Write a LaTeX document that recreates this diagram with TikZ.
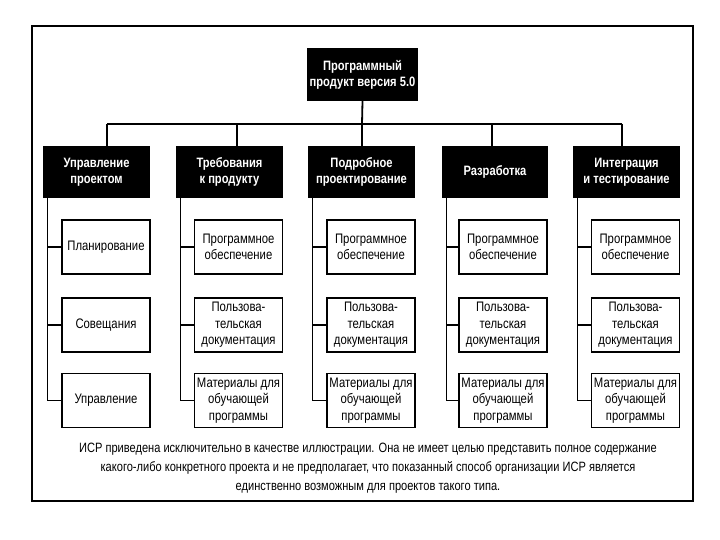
\documentclass[tikz,border=0pt]{standalone}
\usepackage{fontspec}
\setmainfont[FakeStretch=0.82]{Liberation Sans}
\begin{document}
\begin{tikzpicture}[x=1pt,y=-1pt,
  head/.style={fill=black, text=white, font=\fontsize{13.6}{16}\selectfont\bfseries, align=center, inner sep=0pt, minimum width=107pt, minimum height=52pt},
  leaf/.style={draw, line width=1.1pt, fill=white, font=\fontsize{13.8}{16.5}\selectfont, align=center, inner sep=0pt, minimum width=88pt, minimum height=54pt},
  bus/.style={line width=1.8pt},
  twig/.style={line width=1.2pt},
  frame/.style={line width=1.4pt}]
\useasboundingbox (0,0) rectangle (720,540);
\draw[frame] (32,26) rectangle (693,501);
% root
\node[head, minimum width=111pt, minimum height=53pt] (root) at (362.5,74.5) {Программный\\продукт версия 5.0};
% level 2
\node[head] (h1) at (96.5,172) {Управление\\проектом};
\node[head] (h2) at (229.5,172) {Требования\\к продукту};
\node[head] (h3) at (361.5,172) {Подробное\\проектирование};
\node[head, minimum width=106pt] (h4) at (495,172) {Разработка};
\node[head] (h5) at (626.5,172) {Интеграция\\и тестирование};
% bus
\coordinate (j1) at (107,124);
\coordinate (j2) at (237,124);
\coordinate (j3) at (362,124);
\coordinate (j4) at (492,124);
\coordinate (j5) at (622,124);
\draw[bus] (root.south) -- (j3);
\draw[bus] (j1) -- (j5);
\foreach \i in {1,...,5} { \draw[bus] (j\i) -- (j\i |- h\i.north); }
% leaves column 1
\node[leaf] (c11) at (106,247) {Планирование};
\node[leaf] (c12) at (106,325) {Совещания};
\node[leaf] (c13) at (106,400.5) {Управление};
% columns 2-5
\foreach \i/\x in {2/238.5,3/371,4/503,5/635.5} {
  \node[leaf] (c\i1) at (\x,247) {Программное\\обеспечение};
  \node[leaf] (c\i2) at (\x,325) {Пользова-\\тельская\\документация};
  \node[leaf] (c\i3) at (\x,400.5) {Материалы для\\обучающей\\программы};
}
% trunks
\foreach \i in {1,...,5} {
  \coordinate (t\i) at ([xshift=4.5pt]h\i.south west);
  \draw[twig] (t\i) |- (c\i3.west);
  \draw[twig] (c\i1.west) -- (c\i1.west -| t\i);
  \draw[twig] (c\i2.west) -- (c\i2.west -| t\i);
}
% caption
\node[align=center, font=\fontsize{13.5}{19}\selectfont, inner sep=0pt] (cap) at (368,468)
 {ИСР приведена исключительно в качестве иллюстрации. Она не имеет целью представить полное содержание\\
  какого-либо конкретного проекта и не предполагает, что показанный способ организации ИСР является\\
  единственно возможным для проектов такого типа.};
\end{tikzpicture}
\end{document}
